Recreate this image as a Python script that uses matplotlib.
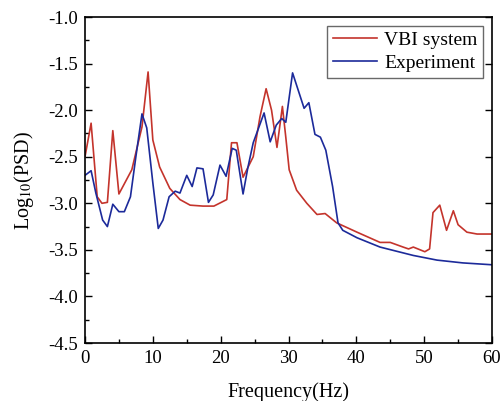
import matplotlib
matplotlib.use("Agg")
import matplotlib.pyplot as plt
from matplotlib.ticker import MultipleLocator

plt.rcParams['font.family'] = ['Liberation Serif', 'DejaVu Serif']
plt.rcParams['mathtext.fontset'] = 'stix'

vbi_f = [0, 0.9, 1.8, 2.5, 3.3, 4.1, 5.0, 6.9, 8.4, 9.3, 10.0, 11.0, 12.5, 14.0, 15.5,
         17.4, 19.0, 20.9, 21.6, 22.4, 23.3, 24.8, 25.8, 26.7, 27.5, 28.3, 29.1, 29.6,
         30.1, 31.2, 32.7, 34.2, 35.4, 37.1, 40.1, 43.5, 45.0, 46.9, 47.7, 48.4, 50.1,
         50.8, 51.3, 52.3, 53.3, 54.3, 55.0, 56.3, 57.8, 60.0]
vbi_v = [-2.50, -2.14, -2.93, -3.00, -2.99, -2.22, -2.90, -2.64, -2.18, -1.59, -2.32,
         -2.61, -2.84, -2.96, -3.02, -3.03, -3.03, -2.96, -2.35, -2.35, -2.72, -2.50,
         -2.07, -1.77, -2.00, -2.40, -1.96, -2.29, -2.64, -2.86, -3.00, -3.12, -3.11,
         -3.21, -3.31, -3.42, -3.42, -3.47, -3.49, -3.47, -3.52, -3.49, -3.10, -3.02,
         -3.29, -3.08, -3.23, -3.31, -3.33, -3.33]

exp_f = [0, 0.9, 1.6, 2.6, 3.3, 4.1, 5.0, 5.8, 6.7, 7.5, 8.4, 9.1, 10.0, 10.8, 11.5,
         12.4, 13.3, 14.0, 15.0, 15.8, 16.5, 17.4, 18.2, 18.9, 19.9, 20.8, 21.7, 22.3,
         23.3, 24.0, 24.8, 26.4, 27.3, 28.2, 29.0, 29.6, 30.6, 32.3, 33.0, 33.9, 34.7,
         35.5, 36.5, 37.3, 38.0, 40.1, 43.5, 48.4, 51.9, 55.7, 60.0]
exp_v = [-2.70, -2.65, -2.89, -3.18, -3.25, -3.01, -3.09, -3.09, -2.93, -2.50, -2.04,
         -2.19, -2.78, -3.27, -3.18, -2.93, -2.87, -2.89, -2.70, -2.82, -2.62, -2.63,
         -2.99, -2.91, -2.59, -2.71, -2.41, -2.43, -2.90, -2.62, -2.35, -2.03, -2.34,
         -2.16, -2.09, -2.13, -1.60, -1.98, -1.92, -2.26, -2.29, -2.43, -2.82, -3.21,
         -3.29, -3.37, -3.47, -3.56, -3.61, -3.64, -3.66]

fig = plt.figure(figsize=(5.0, 4.01), dpi=100)
ax = fig.add_axes([0.17, 0.1446, 0.814, 0.813])

ax.plot(vbi_f, vbi_v, color='#c4342c', lw=1.2, label='VBI system')
ax.plot(exp_f, exp_v, color='#1c2a9a', lw=1.2, label='Experiment')

ax.set_xlim(0, 60)
ax.set_ylim(-4.5, -1.0)
ax.xaxis.set_major_locator(MultipleLocator(10))
ax.xaxis.set_minor_locator(MultipleLocator(5))
ax.yaxis.set_major_locator(MultipleLocator(0.5))
ax.yaxis.set_minor_locator(MultipleLocator(0.25))
ax.yaxis.set_major_formatter(matplotlib.ticker.FormatStrFormatter('%.1f'))
ax.tick_params(which='major', direction='in', length=5, width=1, labelsize=13.5,
               right=True, top=False, pad=5)
ax.tick_params(which='minor', direction='in', length=3, width=1, right=False, top=False)
for s in ax.spines.values():
    s.set_linewidth(1.2)

ax.set_xlabel('Frequency(Hz)', fontsize=14.5, labelpad=11)
ax.set_ylabel(r'Log$_{10}$(PSD)', fontsize=14.5, labelpad=9)

leg = ax.legend(loc='upper right', fontsize=14, frameon=True, fancybox=False,
                edgecolor='#444444', handlelength=2.3, borderpad=0.3,
                labelspacing=0.25, handletextpad=0.35, borderaxespad=0.45)
leg.get_frame().set_linewidth(1.0)

fig.savefig('out.png', dpi=100)
